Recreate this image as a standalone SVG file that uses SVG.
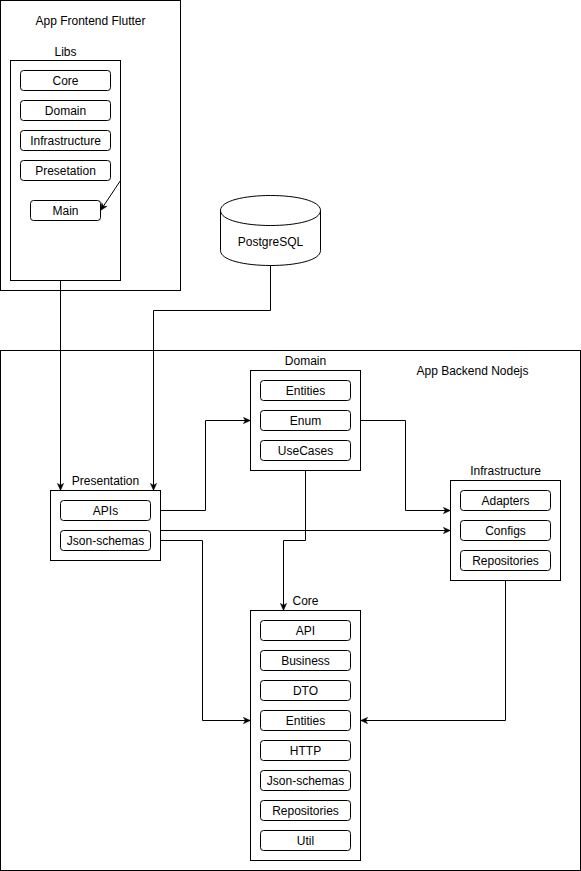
<svg xmlns="http://www.w3.org/2000/svg" width="581" height="871" viewBox="0 0 581 871">
<style>
.box{fill:#fff;stroke:#000;stroke-width:1}
.item{fill:#fff;stroke:#000;stroke-width:1}
.t{font-family:"Liberation Sans",Arial,Helvetica,sans-serif;font-size:12px;fill:#000;text-anchor:middle}
.c{fill:none;stroke:#000;stroke-width:1;marker-end:url(#arr)}
</style>
<defs>
<marker id="arr" viewBox="0 0 10 10" refX="9.5" refY="5" markerWidth="8" markerHeight="8" markerUnits="userSpaceOnUse" orient="auto">
<path d="M0.5,1 L9.5,5 L0.5,9 L3,5 Z" fill="#000" stroke="#000" stroke-width="0.5"/>
</marker>
</defs>
<rect x="0" y="0" width="581" height="871" fill="#fff"/>
<g transform="translate(0.5,0.5)">
<g id="frontend">
<rect class="box" x="0" y="0" width="180" height="290"/>
<text class="t" x="90" y="24">App Frontend Flutter</text>
</g>
<g id="libs">
<rect class="box" x="10" y="60" width="110" height="220"/>
<text class="t" x="65" y="55">Libs</text>
</g>
<g id="libs-core"><rect class="item" x="20" y="70" width="90" height="20" rx="3"/><text class="t" x="65" y="84">Core</text></g>
<g id="libs-domain"><rect class="item" x="20" y="100" width="90" height="20" rx="3"/><text class="t" x="65" y="114">Domain</text></g>
<g id="libs-infrastructure"><rect class="item" x="20" y="130" width="90" height="20" rx="3"/><text class="t" x="65" y="144">Infrastructure</text></g>
<g id="libs-presetation"><rect class="item" x="20" y="160" width="90" height="20" rx="3"/><text class="t" x="65" y="174">Presetation</text></g>
<g id="libs-main"><rect class="item" x="30" y="200" width="70" height="20" rx="3"/><text class="t" x="65" y="214">Main</text></g>

<g id="postgresql">
<path class="box" d="M220,210 C220,190 320,190 320,210 L320,250 C320,270 220,270 220,250 Z"/>
<path fill="none" stroke="#000" d="M220,210 C220,230 320,230 320,210"/>
<text class="t" x="270" y="245">PostgreSQL</text>
</g>

<g id="backend">
<rect class="box" x="0" y="350" width="580" height="520"/>
<text class="t" x="472" y="374">App Backend Nodejs</text>
</g>

<g id="presentation">
<rect class="box" x="50" y="490" width="110" height="70"/>
<text class="t" x="105" y="484">Presentation</text>
</g>
<g id="pres-apis"><rect class="item" x="60" y="500" width="90" height="20" rx="3"/><text class="t" x="105" y="514">APIs</text></g>
<g id="pres-json"><rect class="item" x="60" y="530" width="90" height="20" rx="3"/><text class="t" x="105" y="544">Json-schemas</text></g>

<g id="domain">
<rect class="box" x="250" y="370" width="110" height="100"/>
<text class="t" x="305" y="364">Domain</text>
</g>
<g id="dom-entities"><rect class="item" x="260" y="380" width="90" height="20" rx="3"/><text class="t" x="305" y="394">Entities</text></g>
<g id="dom-enum"><rect class="item" x="260" y="410" width="90" height="20" rx="3"/><text class="t" x="305" y="424">Enum</text></g>
<g id="dom-usecases"><rect class="item" x="260" y="440" width="90" height="20" rx="3"/><text class="t" x="305" y="454">UseCases</text></g>

<g id="infrastructure">
<rect class="box" x="450" y="480" width="110" height="100"/>
<text class="t" x="505" y="474">Infrastructure</text>
</g>
<g id="inf-adapters"><rect class="item" x="460" y="490" width="90" height="20" rx="3"/><text class="t" x="505" y="504">Adapters</text></g>
<g id="inf-configs"><rect class="item" x="460" y="520" width="90" height="20" rx="3"/><text class="t" x="505" y="534">Configs</text></g>
<g id="inf-repositories"><rect class="item" x="460" y="550" width="90" height="20" rx="3"/><text class="t" x="505" y="564">Repositories</text></g>

<g id="core">
<rect class="box" x="250" y="610" width="110" height="250"/>
<text class="t" x="305" y="604">Core</text>
</g>
<g id="core-api"><rect class="item" x="260" y="620" width="90" height="20" rx="3"/><text class="t" x="305" y="634">API</text></g>
<g id="core-business"><rect class="item" x="260" y="650" width="90" height="20" rx="3"/><text class="t" x="305" y="664">Business</text></g>
<g id="core-dto"><rect class="item" x="260" y="680" width="90" height="20" rx="3"/><text class="t" x="305" y="694">DTO</text></g>
<g id="core-entities"><rect class="item" x="260" y="710" width="90" height="20" rx="3"/><text class="t" x="305" y="724">Entities</text></g>
<g id="core-http"><rect class="item" x="260" y="740" width="90" height="20" rx="3"/><text class="t" x="305" y="754">HTTP</text></g>
<g id="core-json"><rect class="item" x="260" y="770" width="90" height="20" rx="3"/><text class="t" x="305" y="784">Json-schemas</text></g>
<g id="core-repositories"><rect class="item" x="260" y="800" width="90" height="20" rx="3"/><text class="t" x="305" y="814">Repositories</text></g>
<g id="core-util"><rect class="item" x="260" y="830" width="90" height="20" rx="3"/><text class="t" x="305" y="844">Util</text></g>

<g id="connectors">
<path class="c" d="M120,180 L100,210"/>
<path class="c" d="M60,280 V490"/>
<path class="c" d="M270,265 V310 H153 V490"/>
<path class="c" d="M160,510 H205 V420 H250"/>
<path class="c" d="M160,530 H450"/>
<path class="c" d="M160,540 H202 V720 H250"/>
<path class="c" d="M360,420 H405 V510 H450"/>
<path class="c" d="M305,470 V540 H283 V610"/>
<path class="c" d="M505,580 V720 H360"/>
</g>
</g>
</svg>
